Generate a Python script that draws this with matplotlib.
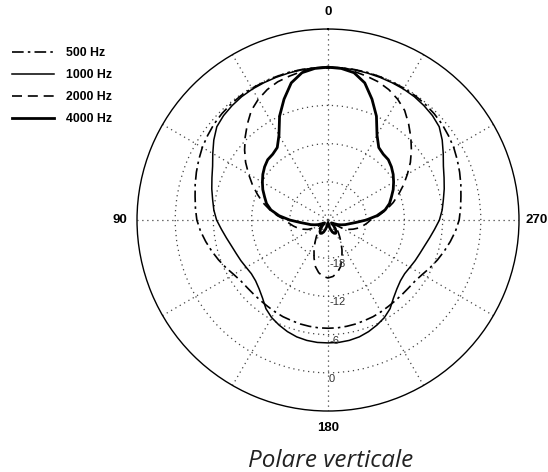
import numpy as np
import matplotlib.pyplot as plt
from matplotlib.lines import Line2D
import matplotlib.transforms as mtransforms

# angles (deg) from 0 to 180, the patterns are symmetric
angles = [0, 5, 10, 15, 20, 25, 30, 35, 40, 45, 50, 55, 60, 65, 70, 75, 80, 85, 90,
          95, 100, 105, 110, 115, 120, 125, 130, 135, 140, 145, 150, 155, 160, 165, 170, 175, 180]

db_500 = [0, 0, 0, 0, -0.05, -0.1, -0.1, -0.15, -0.25, -0.4, -0.6, -0.9, -1.2, -1.6, -2.0, -2.4, -2.8, -3.1, -3.4,
          -3.9, -4.5, -5.1, -5.7, -6.3, -6.9, -7.3, -7.45, -7.5, -7.5, -7.45, -7.35, -7.25, -7.2, -7.1, -7.05, -7.0, -7.0]
db_1000 = [0, 0, -0.05, -0.1, -0.15, -0.2, -0.25, -0.35, -0.55, -0.8, -1.2, -2.1, -3.1, -4.0, -4.6, -5.1, -5.6, -6.0, -6.5,
           -7.2, -7.8, -8.3, -8.65, -8.9, -9.15, -9.3, -9.15, -8.7, -8.0, -7.0, -6.3, -5.8, -5.35, -5.0, -4.8, -4.7, -4.7]
db_2000 = [0, -0.05, -0.3, -0.6, -0.9, -1.4, -2.1, -3.0, -4.3, -5.6, -6.9, -8.2, -9.6, -10.9, -12.2, -13.4, -14.7, -16.0, -17.3,
           -17.9, -18.5, -19.1, -19.8, -20.5, -21.5, -22.8, -22.6, -22.1, -21.5, -20.8, -19.9, -18.8, -17.6, -16.4, -15.6, -15.1, -14.9]
db_4000 = [0, -0.1, -0.5, -1.7, -3.8, -6.0, -8.6, -10.1, -10.5, -10.6, -11.0, -11.5, -12.1, -12.7, -13.4, -14.0, -14.9, -16.3, -18.0,
           -19.6, -20.6, -21.2, -21.8, -22.3, -22.8, -23.1, -23.3, -22.8, -22.2, -21.8, -21.6, -21.7, -22.0, -22.5, -23.0, -23.4, -23.6]

labels = ['500 Hz', '1000 Hz', '2000 Hz', '4000 Hz']
rings = [-18, -12, -6, 0]


def full_circle(vals):
    a = np.array(angles, dtype=float)
    v = np.array(vals, dtype=float)
    th = np.concatenate([a, 360 - a[::-1][1:]])
    r = np.concatenate([v, v[::-1][1:]])
    return np.deg2rad(th), r


fig = plt.figure(figsize=(5.48, 4.72), dpi=100)
ax = fig.add_axes([0.2500, 0.1292, 0.6971, 0.8093], projection='polar')
ax.set_theta_zero_location('N')
ax.set_theta_direction(1)
ax.set_ylim(-24, 6)

styles = [
    dict(color='black', lw=1.2, linestyle=(0, (7, 2.5, 1.5, 2.5))),
    dict(color='black', lw=1.1, linestyle='-'),
    dict(color='black', lw=1.2, linestyle=(0, (6, 3.5))),
    dict(color='black', lw=2.0, linestyle='-'),
]
handles = []
for vals, lab, st in zip([db_500, db_1000, db_2000, db_4000], labels, styles):
    th, r = full_circle(vals)
    ax.plot(th, r, **st)
    handles.append(Line2D([], [], **st, label=lab))

# grid
ax.set_yticks(rings)
ax.set_yticklabels([])
tick_deg = np.arange(0, 360, 30)
ax.set_xticks(np.deg2rad(tick_deg))
ax.set_xticklabels([str(d) if d % 90 == 0 else '' for d in tick_deg],
                   fontsize=9.5, fontweight='bold', family='Liberation Sans')
ax.tick_params(axis='x', pad=2)
ax.grid(True, linestyle=(0, (1, 3)), color='#444444', lw=0.9)
ax.spines['polar'].set_linewidth(1.0)

off = mtransforms.offset_copy(ax.transData, fig=fig, x=1, y=-1, units='dots')
for v in rings:
    ax.text(np.pi, v, str(v), transform=off, ha='left', va='top',
            fontsize=8, color='#333333', family='Liberation Sans')

fig.legend(handles=handles, loc='upper left', bbox_to_anchor=(0.011, 0.913),
           frameon=False, borderpad=0, handlelength=3.4, handletextpad=1.0,
           labelspacing=0.82, prop=dict(family='Liberation Sans', weight='bold', size=8.8))

fig.text(0.604, -0.002, 'Polare verticale', ha='center', va='bottom',
         fontsize=17.5, style='italic', family='Open Sans', color='#222222')

fig.savefig('out.png', dpi=100)
